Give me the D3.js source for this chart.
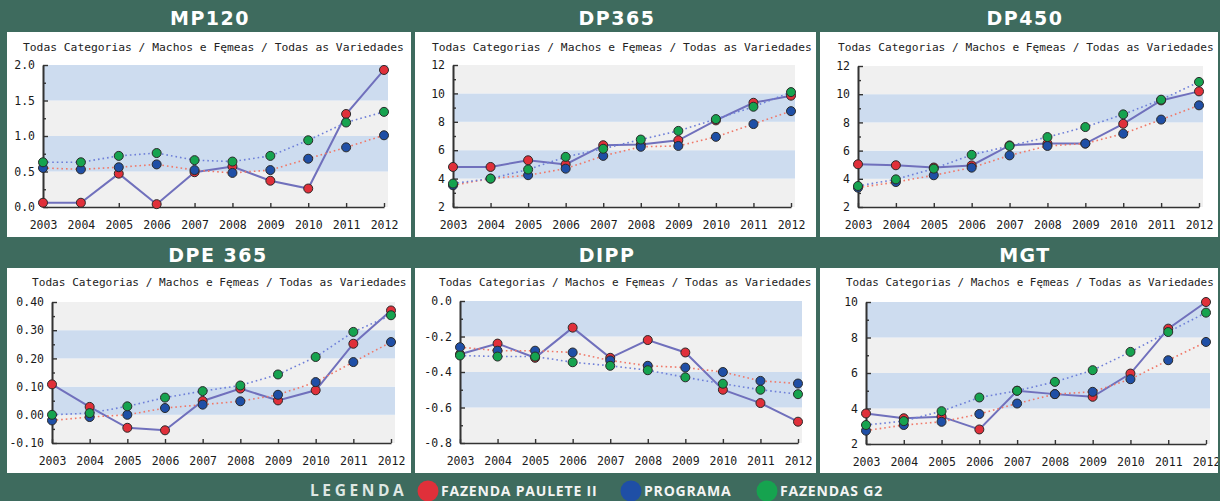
<!DOCTYPE html>
<html><head><meta charset="utf-8">
<script src="https://cdn.jsdelivr.net/npm/d3@7"></script>
<style>html,body{margin:0;padding:0;background:#3e6b5e;overflow:hidden} svg{display:block}</style>
</head><body><svg id="c" width="1220" height="501"></svg>
<script>
// ---------- DATA ----------
const years = ["2003","2004","2005","2006","2007","2008","2009","2010","2011","2012"];
const seriesNames = ["FAZENDA PAULETE II","PROGRAMA","FAZENDAS G2"];
const panelTitles = ["MP120","DP365","DP450","DPE 365","DIPP","MGT"];
const subtitleText = "Todas Categorias / Machos e Fęmeas / Todas as Variedades";

const mp120Paulete = [0.06,0.06,0.47,0.04,0.49,0.57,0.37,0.26,1.31,1.93];
const mp120Programa = [0.55,0.53,0.56,0.60,0.52,0.48,0.52,0.68,0.84,1.01];
const mp120G2 = [0.63,0.63,0.72,0.76,0.66,0.64,0.72,0.94,1.19,1.34];
const mp120Ticks = [0,0.5,1.0,1.5,2.0];

const dp365Paulete = [4.82,4.82,5.29,5.0,6.35,6.4,6.7,8.1,9.34,9.84];
const dp365Programa = [3.53,4.0,4.24,4.7,5.6,6.24,6.3,6.94,7.84,8.75];
const dp365G2 = [3.65,4.0,4.64,5.53,6.1,6.75,7.36,8.19,9.06,10.09];
const dp365Ticks = [2,4,6,8,10,12];

const dp450Paulete = [5.03,4.96,4.8,4.95,6.37,6.5,6.5,7.9,9.56,10.2];
const dp450Programa = [3.37,3.77,4.25,4.79,5.66,6.33,6.5,7.2,8.2,9.21];
const dp450G2 = [3.49,3.96,4.72,5.7,6.33,6.96,7.67,8.57,9.61,10.87];
const dp450Ticks = [2,4,6,8,10,12];

const dpe365Paulete = [0.108,0.028,-0.046,-0.055,0.049,0.093,0.051,0.087,0.252,0.37];
const dpe365Programa = [-0.02,-0.008,0.0,0.024,0.036,0.048,0.071,0.116,0.187,0.258];
const dpe365G2 = [0.0,0.006,0.03,0.061,0.084,0.104,0.143,0.205,0.294,0.353];
const dpe365Ticks = [-0.10,0.00,0.10,0.20,0.30,0.40];

const dippPaulete = [-0.30,-0.24,-0.32,-0.15,-0.32,-0.22,-0.29,-0.50,-0.575,-0.68];
const dippPrograma = [-0.26,-0.28,-0.28,-0.29,-0.335,-0.365,-0.375,-0.40,-0.45,-0.465];
const dippG2 = [-0.307,-0.313,-0.313,-0.345,-0.365,-0.39,-0.43,-0.466,-0.50,-0.525];
const dippTicks = [-0.8,-0.6,-0.4,-0.2,0.0];

const mgtPaulete = [3.72,3.45,3.54,2.82,5.0,4.81,4.66,5.97,8.5,10.0];
const mgtPrograma = [2.75,3.07,3.25,3.69,4.28,4.81,4.94,5.65,6.72,7.75];
const mgtG2 = [3.07,3.29,3.85,4.62,5.0,5.5,6.16,7.19,8.31,9.4];
const mgtTicks = [2,4,6,8,10];

// ---------- LAYOUT / STYLE ----------
const seriesColors = ["#e0303a","#1f4fa6","#16a34f"];
const lineStyles = [
  {stroke:"#7070bc", width:2, dash:null},
  {stroke:"#f07868", width:1.6, dash:"1.6,3"},
  {stroke:"#6e7fd8", width:1.6, dash:"1.6,3"}
];
const panels = [
  {title:panelTitles[0], series:[mp120Paulete,mp120Programa,mp120G2], ticks:mp120Ticks, fmt:".1f",
   box:[7,32,411,237], plot:[43,384,65,207], tx:210, ty:18, sx:23, sy:47},
  {title:panelTitles[1], series:[dp365Paulete,dp365Programa,dp365G2], ticks:dp365Ticks, fmt:"d",
   box:[415,32,816,237], plot:[453,791,65,207], tx:617, ty:18, sx:432, sy:47},
  {title:panelTitles[2], series:[dp450Paulete,dp450Programa,dp450G2], ticks:dp450Ticks, fmt:"d",
   box:[820,32,1218,237], plot:[858,1199,66,207], tx:1025, ty:18, sx:838, sy:47},
  {title:panelTitles[3], series:[dpe365Paulete,dpe365Programa,dpe365G2], ticks:dpe365Ticks, fmt:".2f",
   box:[7,268,411,473], plot:[52,391,302,443], tx:218, ty:255, sx:32, sy:282},
  {title:panelTitles[4], series:[dippPaulete,dippPrograma,dippG2], ticks:dippTicks, fmt:".1f",
   box:[415,268,816,473], plot:[460,798,301,443], tx:607, ty:255, sx:439, sy:282},
  {title:panelTitles[5], series:[mgtPaulete,mgtPrograma,mgtG2], ticks:mgtTicks, fmt:"d",
   box:[820,268,1218,473], plot:[866,1206,302,444], tx:1025, ty:255, sx:846, sy:282}
];

const svg = d3.select("#c");
svg.append("rect").attr("width",1220).attr("height",501).attr("fill","#3e6b5e");
const defs = svg.append("defs");
const minusFmt = f => v => d3.format(f)(v).replace("−","-");

panels.forEach((p,pi) => {
  const [bx0,by0,bx1,by1] = p.box;
  const [x0,x1,yT,yB] = p.plot;
  defs.append("clipPath").attr("id","clip"+pi).append("rect")
    .attr("x",bx0).attr("y",by0).attr("width",bx1-bx0).attr("height",by1-by0);

  // title
  svg.append("text").attr("x",p.tx).attr("y",p.ty).attr("text-anchor","middle")
    .attr("dominant-baseline","central")
    .attr("font-family","DejaVu Sans").attr("font-weight","bold").attr("font-size",19)
    .attr("letter-spacing",1.5).attr("fill","#ffffff").text(p.title);

  svg.append("rect").attr("x",bx0).attr("y",by0).attr("width",bx1-bx0).attr("height",by1-by0).attr("fill","#ffffff");

  const subFs = Math.min(11.3, (bx1 - p.sx - 4) / (subtitleText.length * 0.602));
  svg.append("text").attr("x",p.sx).attr("y",p.sy).attr("dominant-baseline","central")
    .attr("font-family","DejaVu Sans Mono").attr("font-size",subFs).attr("fill","#222")
    .text(subtitleText);

  const g = svg.append("g").attr("clip-path",`url(#clip${pi})`);

  const x = d3.scalePoint().domain(years).range([x0,x1]);
  const y = d3.scaleLinear().domain([p.ticks[0], p.ticks[p.ticks.length-1]]).range([yB,yT]);

  // bands
  for (let i=0;i<p.ticks.length-1;i++){
    g.append("rect").attr("x",x0).attr("width",x1-x0+4)
      .attr("y",y(p.ticks[i+1])).attr("height",y(p.ticks[i])-y(p.ticks[i+1]))
      .attr("fill", i%2===0 ? "#f0f0f0" : "#cddcef");
  }

  // axes
  g.append("g").attr("transform",`translate(${x0},0)`)
    .call(d3.axisLeft(y).tickValues(p.ticks).tickFormat(minusFmt(p.fmt)).tickSize(-5).tickSizeOuter(0).tickPadding(8));
  const minors = p.ticks.slice(0,-1).map((t,i)=>(t+p.ticks[i+1])/2);
  g.append("g").attr("transform",`translate(${x0},0)`)
    .call(d3.axisLeft(y).tickValues(minors).tickFormat("").tickSize(-3).tickSizeOuter(0));
  g.append("g").attr("transform",`translate(0,${yB})`)
    .call(d3.axisBottom(x).tickSize(-4).tickSizeOuter(0).tickPadding(14));
  g.selectAll(".domain").attr("stroke","#333").attr("stroke-width",1.6);
  g.selectAll(".tick line").attr("stroke","#333").attr("stroke-width",1.4);
  g.selectAll(".tick text").attr("font-family","DejaVu Sans Mono").attr("font-size",11.5).attr("fill","#1a1a1a");

  // lines
  const line = d3.line().x((d,i)=>x(years[i])).y(d=>y(d));
  p.series.forEach((s,si)=>{
    const ls = lineStyles[si];
    g.append("path").attr("d",line(s)).attr("fill","none")
      .attr("stroke",ls.stroke).attr("stroke-width",ls.width)
      .attr("stroke-dasharray",ls.dash);
  });
  // points
  p.series.forEach((s,si)=>{
    g.append("g").selectAll("circle").data(s).join("circle")
      .attr("cx",(d,i)=>x(years[i])).attr("cy",d=>y(d)).attr("r",4.5)
      .attr("fill",seriesColors[si]).attr("stroke","#2a2a2a").attr("stroke-width",1);
  });
});

// legend
const legY = 490;
svg.append("text").attr("x",310).attr("y",legY).attr("dominant-baseline","central")
  .attr("font-family","Open Sans").attr("font-weight","bold").attr("font-size",15.5)
  .attr("letter-spacing",3.6).attr("fill","#dfe7e3").text("LEGENDA");
const legX = [428,631,767];
seriesNames.forEach((n,i)=>{
  svg.append("circle").attr("cx",legX[i]).attr("cy",legY+1).attr("r",10.5).attr("fill",seriesColors[i]);
  svg.append("text").attr("x",legX[i]+13).attr("y",legY).attr("dominant-baseline","central")
    .attr("font-family","Open Sans").attr("font-weight","bold").attr("font-size",14)
    .attr("letter-spacing",0.8).attr("fill","#f4f4f4").text(n);
});
</script></body></html>
